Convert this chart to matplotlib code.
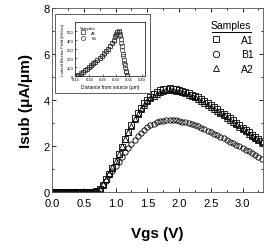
import numpy as np
import matplotlib
matplotlib.use('Agg')
import matplotlib.pyplot as plt
from matplotlib.patches import Rectangle
from matplotlib.ticker import MultipleLocator, FormatStrFormatter

plt.rcParams['font.family'] = ['Liberation Sans', 'DejaVu Sans']

# main plot: substrate current vs gate voltage
vgs = [0.00, 0.05, 0.10, 0.15, 0.20, 0.25, 0.30, 0.35, 0.40, 0.45, 0.50, 0.55, 0.60, 0.65,
       0.70, 0.75, 0.80, 0.85, 0.90, 0.95, 1.00, 1.05, 1.10, 1.15, 1.20, 1.25, 1.30, 1.35,
       1.40, 1.45, 1.50, 1.55, 1.60, 1.65, 1.70, 1.75, 1.80, 1.85, 1.90, 1.95, 2.00, 2.05,
       2.10, 2.15, 2.20, 2.25, 2.30, 2.35, 2.40, 2.45, 2.50, 2.55, 2.60, 2.65, 2.70, 2.75,
       2.80, 2.85, 2.90, 2.95, 3.00, 3.05, 3.10, 3.15, 3.20, 3.25, 3.30]
isub_a1 = [0, 0, 0, 0, 0, 0, 0, 0, 0, 0, 0, 0, 0, 0.01,
           0.03, 0.12, 0.32, 0.55, 0.80, 1.05, 1.35, 1.65, 1.97, 2.30, 2.62, 2.92, 3.20, 3.45,
           3.66, 3.85, 4.01, 4.14, 4.26, 4.35, 4.42, 4.47, 4.50, 4.51, 4.50, 4.48, 4.45, 4.41,
           4.36, 4.30, 4.24, 4.18, 4.12, 4.04, 3.96, 3.87, 3.78, 3.69, 3.60, 3.50, 3.41, 3.31,
           3.21, 3.11, 3.01, 2.91, 2.80, 2.70, 2.60, 2.50, 2.40, 2.31, 2.22]
isub_b1 = [0, 0, 0, 0, 0, 0, 0, 0, 0, 0, 0, 0, 0, 0.01,
           0.03, 0.12, 0.30, 0.50, 0.72, 0.93, 1.12, 1.32, 1.52, 1.72, 1.92, 2.10, 2.27, 2.43,
           2.57, 2.70, 2.81, 2.90, 2.97, 3.03, 3.07, 3.10, 3.12, 3.13, 3.12, 3.11, 3.09, 3.06,
           3.03, 3.00, 2.96, 2.91, 2.86, 2.80, 2.74, 2.67, 2.60, 2.53, 2.46, 2.39, 2.33, 2.26,
           2.19, 2.12, 2.05, 1.98, 1.91, 1.84, 1.77, 1.70, 1.62, 1.53, 1.43]
isub_a2 = [0, 0, 0, 0, 0, 0, 0, 0, 0, 0, 0, 0, 0, 0.01,
           0.03, 0.13, 0.33, 0.56, 0.81, 1.07, 1.37, 1.67, 1.98, 2.30, 2.60, 2.89, 3.16, 3.40,
           3.61, 3.79, 3.94, 4.07, 4.19, 4.28, 4.35, 4.40, 4.43, 4.44, 4.43, 4.41, 4.38, 4.34,
           4.29, 4.23, 4.17, 4.11, 4.04, 3.97, 3.89, 3.80, 3.71, 3.62, 3.53, 3.43, 3.34, 3.24,
           3.14, 3.04, 2.94, 2.84, 2.74, 2.64, 2.54, 2.44, 2.35, 2.26, 2.17]

# inset: lateral electric field vs distance from source
dist = [0.150, 0.158, 0.166, 0.174, 0.182, 0.190, 0.198, 0.206, 0.214, 0.222, 0.230,
        0.238, 0.246, 0.254, 0.262, 0.270, 0.278, 0.286, 0.292, 0.298, 0.302, 0.306,
        0.310, 0.314, 0.318, 0.322, 0.326, 0.330, 0.334, 0.338, 0.342]
field_a1 = [0, 15, 30, 48, 65, 82, 100, 120, 140, 160, 182, 205, 228, 252, 278, 305,
            335, 370, 405, 440, 470, 495, 500, 470, 410, 330, 250, 180, 120, 60, 10]
field_b1 = [0, 12, 28, 45, 62, 80, 98, 116, 136, 156, 178, 200, 224, 248, 274, 300,
            330, 362, 395, 430, 460, 485, 490, 440, 370, 290, 220, 150, 95, 45, 5]

fig = plt.figure(figsize=(2.64, 2.51), dpi=100)
ax = fig.add_axes([0.197, 0.231, 0.799, 0.733])

mk = dict(linestyle='none', markerfacecolor='none', markeredgecolor='black',
          markeredgewidth=0.6, markersize=3.8)
ax.plot(vgs, isub_a1, marker='s', label='A1', **mk)
ax.plot(vgs, isub_b1, marker='o', label='B1', **mk)
ax.plot(vgs, isub_a2, marker='^', label='A2', **mk)

ax.set_xlim(0, 3.32)
ax.set_ylim(0, 8)
ax.xaxis.set_major_locator(MultipleLocator(0.5))
ax.xaxis.set_major_formatter(FormatStrFormatter('%.1f'))
ax.xaxis.set_minor_locator(MultipleLocator(0.25))
ax.yaxis.set_major_locator(MultipleLocator(2))
ax.yaxis.set_minor_locator(MultipleLocator(1))
ax.tick_params(which='both', direction='in', top=True, right=True, labelsize=8,
               width=0.6, pad=1.5)
ax.tick_params(axis='x', pad=4)
ax.tick_params(which='major', length=3)
ax.tick_params(which='minor', length=1.5)
for s in ax.spines.values():
    s.set_linewidth(0.6)
    s.set_color('#555555')

ax.set_xlabel('Vgs (V)', fontsize=11, fontweight='bold', labelpad=13)
ax.set_ylabel('Isub (\u03bcA/\u03bcm)', fontsize=11, fontweight='bold', labelpad=8)

leg = ax.legend(loc='upper right', bbox_to_anchor=(0.99, 0.975), frameon=False,
                title='Samples', fontsize=7.5, title_fontsize=7.5, handletextpad=1.6,
                labelspacing=0.45, markerscale=1.2, borderaxespad=0.3, handlelength=1.5)

# underline under the legend title (axes fraction, after the legend so it gets no entry)
ax.plot([0.757, 0.943], [0.872, 0.872], transform=ax.transAxes, color='black',
        linewidth=0.7, clip_on=False, zorder=10)

# frame around the inset
fig.patches.append(Rectangle((0.208, 0.625), 0.36, 0.315, transform=fig.transFigure,
                             fill=True, facecolor='white', edgecolor='#444444',
                             linewidth=0.6, zorder=5))

ins = fig.add_axes([0.284, 0.693, 0.265, 0.215], zorder=6)
mk2 = dict(linestyle='none', markerfacecolor='none', markeredgecolor='#333333',
           markeredgewidth=0.5, markersize=3.0)
ins.plot(dist, field_a1, marker='s', label='A1', **mk2)
ins.plot(dist, field_b1, marker='o', label='B1', **mk2)
ins.set_xlim(0.145, 0.41)
ins.set_ylim(0, 600)
ins.set_xticks([0.15, 0.20, 0.25, 0.30, 0.35, 0.40])
ins.set_yticks([0, 100, 200, 300, 400, 500])
ins.tick_params(direction='in', labelsize=3, length=1.5, width=0.4, pad=1)
for s in ins.spines.values():
    s.set_linewidth(0.5)
ins.set_xlabel('Distance from source (\u03bcm)', fontsize=3.5, labelpad=2)
ins.set_ylabel('Lateral Electric Field (kV/cm)', fontsize=3, labelpad=1)
ins.legend(loc='upper left', bbox_to_anchor=(0.02, 0.98), frameon=False, title='Samples',
           fontsize=3, title_fontsize=3, handletextpad=1.0, labelspacing=0.3,
           borderaxespad=0.2)

fig.savefig('out.png', dpi=100)
